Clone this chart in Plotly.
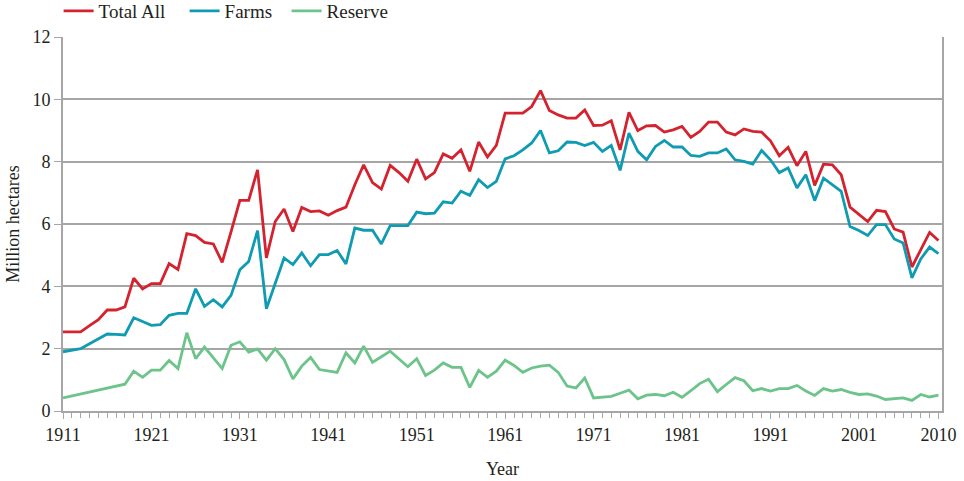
import plotly.graph_objects as go

years = list(range(1911, 2011))

total_all = [
    2.54, 2.54, 2.54, 2.74, 2.93, 3.24, 3.24, 3.34, 4.26, 3.92,
    4.09, 4.09, 4.73, 4.54, 5.69, 5.63, 5.41, 5.36, 4.77, 5.75,
    6.76, 6.76, 7.74, 4.91, 6.08, 6.48, 5.76, 6.53, 6.40, 6.42,
    6.28, 6.43, 6.54, 7.26, 7.90, 7.33, 7.12, 7.88, 7.65, 7.37,
    8.08, 7.45, 7.65, 8.25, 8.11, 8.38, 7.69, 8.63, 8.15, 8.52,
    9.56, 9.56, 9.56, 9.77, 10.28, 9.64, 9.50, 9.40, 9.40, 9.66,
    9.16, 9.17, 9.31, 8.38, 9.58, 9.00, 9.15, 9.16, 8.95, 9.02,
    9.13, 8.78, 8.97, 9.27, 9.27, 8.95, 8.86, 9.05, 8.97, 8.95,
    8.67, 8.19, 8.46, 7.87, 8.33, 7.24, 7.92, 7.90, 7.58, 6.54,
    6.32, 6.08, 6.44, 6.40, 5.84, 5.74, 4.62, 5.15, 5.73, 5.47,
]

farms = [
    1.90, 1.95, 2.00, 2.16, 2.32, 2.47, 2.46, 2.44, 2.99, 2.88,
    2.75, 2.77, 3.07, 3.13, 3.13, 3.92, 3.36, 3.57, 3.34, 3.71,
    4.53, 4.80, 5.79, 3.28, 4.11, 4.91, 4.70, 5.07, 4.66, 5.02,
    5.02, 5.15, 4.72, 5.87, 5.80, 5.80, 5.36, 5.95, 5.95, 5.95,
    6.38, 6.33, 6.35, 6.71, 6.67, 7.05, 6.92, 7.42, 7.17, 7.37,
    8.09, 8.19, 8.38, 8.60, 9.00, 8.28, 8.35, 8.63, 8.62, 8.52,
    8.62, 8.33, 8.52, 7.72, 8.92, 8.33, 8.06, 8.49, 8.68, 8.47,
    8.47, 8.20, 8.17, 8.28, 8.28, 8.41, 8.06, 8.01, 7.92, 8.36,
    8.06, 7.65, 7.80, 7.16, 7.58, 6.75, 7.47, 7.26, 7.05, 5.92,
    5.79, 5.63, 5.98, 5.98, 5.52, 5.39, 4.27, 4.88, 5.26, 5.05,
]

reserve = [
    0.42, 0.48, 0.55, 0.61, 0.67, 0.73, 0.79, 0.86, 1.28, 1.08,
    1.31, 1.31, 1.62, 1.36, 2.51, 1.68, 2.05, 1.70, 1.36, 2.11,
    2.22, 1.89, 1.99, 1.63, 2.00, 1.65, 1.03, 1.44, 1.72, 1.33,
    1.28, 1.24, 1.87, 1.54, 2.08, 1.56, 1.74, 1.92, 1.67, 1.42,
    1.68, 1.14, 1.31, 1.54, 1.40, 1.40, 0.76, 1.30, 1.08, 1.28,
    1.63, 1.46, 1.24, 1.38, 1.44, 1.47, 1.24, 0.80, 0.74, 1.06,
    0.42, 0.45, 0.47, 0.57, 0.67, 0.39, 0.51, 0.53, 0.49, 0.60,
    0.44, 0.65, 0.88, 1.02, 0.62, 0.85, 1.07, 0.97, 0.65, 0.72,
    0.64, 0.72, 0.72, 0.82, 0.64, 0.50, 0.72, 0.64, 0.69, 0.60,
    0.53, 0.55, 0.48, 0.37, 0.40, 0.42, 0.34, 0.53, 0.45, 0.51,
]

x_ticks = [1911, 1921, 1931, 1941, 1951, 1961, 1971, 1981, 1991, 2001, 2010]

# legend names; trailing no-break spaces only widen the gap between entries
series = [
    ("Total All\u00a0\u00a0\u00a0", total_all, "#d4222e"),
    ("Farms\u00a0\u00a0", farms, "#0f9bb1"),
    ("Reserve", reserve, "#6cc48a"),
]

FONT = "Liberation Serif"
GRID = "#a6a6a6"
TXT = "#231f20"

fig = go.Figure()
for name, vals, color in series:
    fig.add_trace(go.Scatter(x=years, y=vals, name=name, mode="lines",
                             line=dict(color=color, width=2.8)))

fig.update_layout(
    width=964, height=481,
    margin=dict(l=63, r=22, t=37, b=70, autoexpand=False),
    plot_bgcolor="white", paper_bgcolor="white",
    font=dict(family=FONT, size=18, color=TXT),
    showlegend=True,
    legend=dict(orientation="h", x=-0.005, xanchor="left", y=1.12, yanchor="top",
                font=dict(family=FONT, size=19, color=TXT),
                itemwidth=30, tracegroupgap=0, bgcolor="rgba(0,0,0,0)"),
)
fig.update_xaxes(
    range=[1911, 2010.4], tickvals=x_ticks, showgrid=False,
    showline=True, linecolor=GRID, linewidth=2,
    ticks="outside", ticklen=6, tickcolor=GRID, tickwidth=1,
    minor=dict(dtick=1, tick0=1911, ticks="outside", ticklen=5,
               tickcolor=GRID, tickwidth=1, showgrid=False),
    title=dict(text="Year", font=dict(family=FONT, size=18, color=TXT), standoff=19),
    tickfont=dict(family=FONT, size=18, color=TXT), zeroline=False,
)
fig.update_yaxes(
    range=[0, 12], dtick=2, showgrid=True, gridcolor=GRID, gridwidth=1.5,
    showline=True, linecolor=GRID, linewidth=2, mirror=True,
    ticks="outside", ticklen=7, tickcolor=GRID, tickwidth=1,
    title=dict(text="Million hectares", font=dict(family=FONT, size=18, color=TXT), standoff=8),
    tickfont=dict(family=FONT, size=18, color=TXT), zeroline=False,
)

fig.write_html("out.html", config={"displayModeBar": False},
               post_script="document.body.style.margin='0';")
